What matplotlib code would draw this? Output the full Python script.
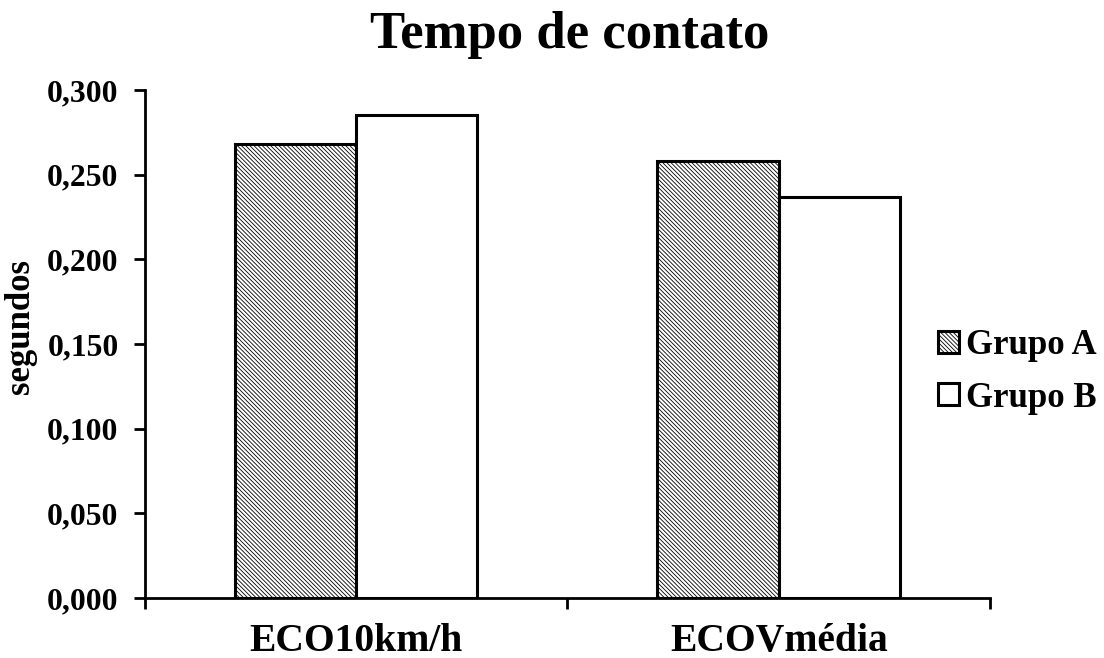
import matplotlib
matplotlib.use('Agg')
import matplotlib.pyplot as plt
import numpy as np

categories = ['ECO10km/h', 'ECOVmédia']
grupo_a = [0.268, 0.258]
grupo_b = [0.285, 0.237]
yticks = [0.0, 0.05, 0.1, 0.15, 0.2, 0.25, 0.3]

plt.rcParams['font.family'] = ['Liberation Serif', 'DejaVu Serif']
plt.rcParams['font.weight'] = 'bold'
plt.rcParams['hatch.linewidth'] = 0.6

fig = plt.figure(figsize=(11.04, 6.58), dpi=100)
ax = fig.add_axes([0.1313, 0.0912, 0.7654, 0.772])

x = np.arange(len(categories))
w = 0.287
ax.bar(x - w / 2, grupo_a, w, color='white', edgecolor='black', linewidth=2.2,
       hatch='\\\\\\\\\\\\\\\\', label='Grupo A')
ax.bar(x + w / 2, grupo_b, w, color='white', edgecolor='black', linewidth=2.2,
       label='Grupo B')

ax.set_xlim(-0.5, 1.5)
ax.set_ylim(0, 0.3)
ax.set_yticks(yticks)
ax.set_yticklabels([('%.3f' % v).replace('.', ',') for v in yticks])
ax.set_xticks([-0.5, 0.5, 1.5])
ax.set_xticklabels([])
ax.set_xticks(x, minor=True)
ax.set_xticklabels(categories, minor=True, fontsize=28.5)
ax.tick_params(axis='x', which='minor', length=0, pad=18)
ax.tick_params(axis='both', which='major', direction='out', length=8, width=2, labelsize=22.8)
ax.tick_params(axis='y', pad=11)

for s in ['top', 'right']:
    ax.spines[s].set_visible(False)
for s in ['left', 'bottom']:
    ax.spines[s].set_linewidth(2)

fig.text(20 / 1104, 1 - 326 / 658, 'segundos', rotation=90, ha='center', va='center',
         fontsize=25, fontweight='bold')
fig.text(0.516, 1 - 48 / 658, 'Tempo de contato', ha='center', va='baseline',
         fontsize=38, fontweight='bold')

fig.legend(loc='center left', bbox_to_anchor=(938 / 1104, 1 - 372 / 658), frameon=False,
           fontsize=25, handlelength=0.6, handleheight=0.6, handletextpad=0.2,
           labelspacing=0.55, borderpad=0, borderaxespad=0)

fig.savefig('out.png', dpi=100)
